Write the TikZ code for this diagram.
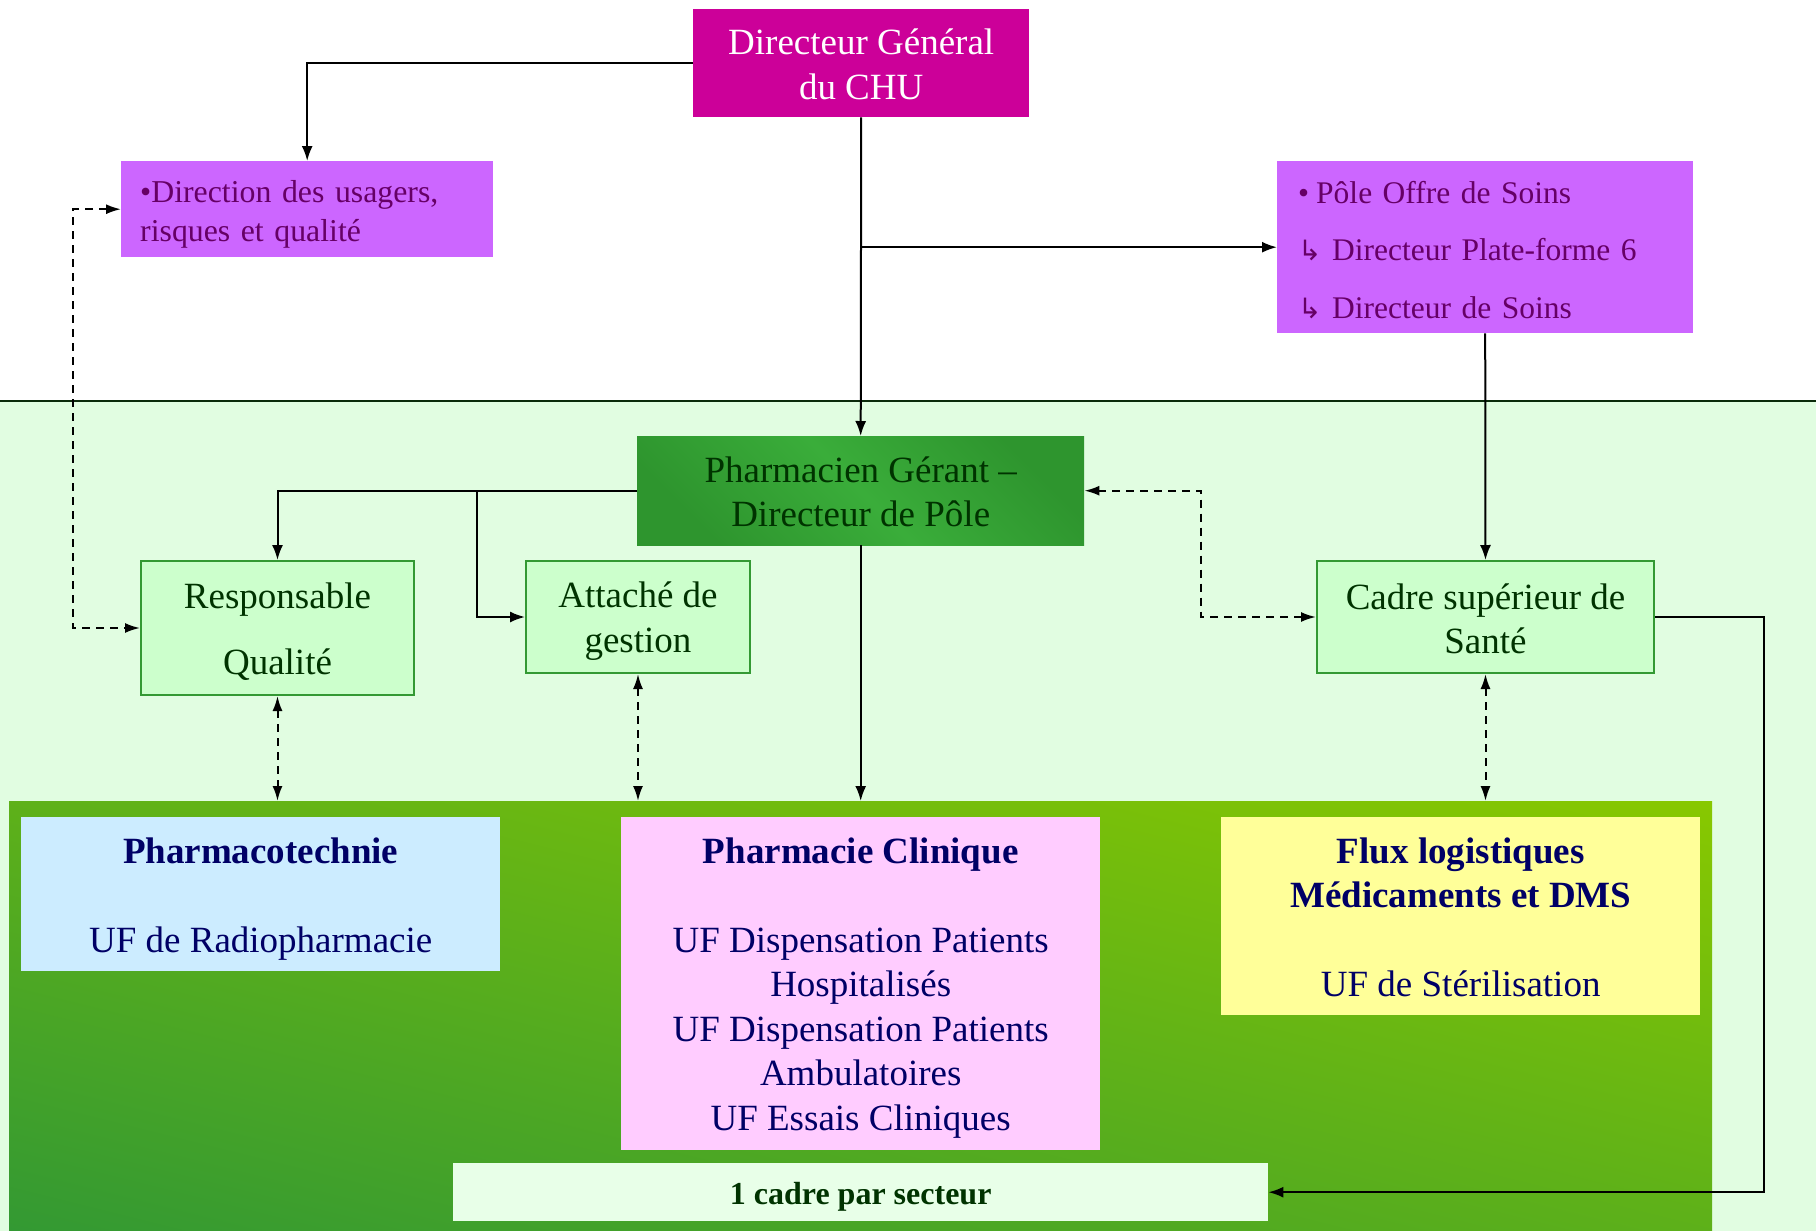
\documentclass[tikz,border=0pt]{standalone}
\usepackage{fontspec}
\setmainfont{Liberation Serif}
\newfontfamily\symfont{DejaVu Sans}
\usetikzlibrary{arrows.meta}
\definecolor{cdg}{HTML}{CC0099}
\definecolor{cviol}{HTML}{CC66FF}
\definecolor{cviotxt}{HTML}{660066}
\definecolor{cbg}{HTML}{E1FDE1}
\definecolor{cline}{HTML}{0A2A0A}
\definecolor{cgtxt}{HTML}{003300}
\definecolor{cgbox}{HTML}{CCFFCC}
\definecolor{cgborder}{HTML}{339933}
\definecolor{cnavy}{HTML}{000066}
\definecolor{cblue}{HTML}{CCECFF}
\definecolor{cpink}{HTML}{FFCCFF}
\definecolor{cyel}{HTML}{FFFF99}
\definecolor{cpale}{HTML}{E8FFE8}
\definecolor{cgdark}{HTML}{339933}
\definecolor{cglight}{HTML}{88C800}
\definecolor{cpgmid}{HTML}{3AAD3A}
\definecolor{cpgdark}{HTML}{2E952E}
\tikzset{
  boxbase/.style={anchor=north west, inner sep=0pt, draw=none},
  txt/.style={inner sep=0pt, align=center, anchor=center},
  bigfont/.style={font=\fontsize{37}{44.5}\selectfont},
  greenbox/.style={boxbase, fill=cgbox, draw=cgborder, line width=2pt},
  arr/.style={draw=black, line width=2pt, -{Latex[length=15pt,width=11pt]}},
  darr/.style={draw=black, line width=2pt, dash pattern=on 8pt off 6pt, {Latex[length=15pt,width=10pt]}-{Latex[length=15pt,width=10pt]}},
}
\begin{document}
\begin{tikzpicture}[x=1pt,y=-1pt]
\useasboundingbox (0,0) rectangle (1816,1231);
\fill[cbg] (0,401) rectangle (1816,1231);
\draw[line width=2.5pt, cline] (0,401) -- (1816,401);

% top level
\node[boxbase, fill=cdg, minimum width=336pt, minimum height=108pt] (dg) at (693,9) {};
\node[txt, text=white, font=\fontsize{37}{45}\selectfont] (dgT) at ([yshift=-1pt]dg.center) {Directeur Général\\du CHU};
\node[boxbase, fill=cviol, minimum width=372pt, minimum height=96pt] (dir) at (121,161) {};
\node[txt, text=cviotxt, text width=334pt, align=left, font=\fontsize{31.8}{39.5}\selectfont]
      (dirT) at ([yshift=-5pt]dir.center) {•Direction des usagers,\\risques et qualité};
\node[boxbase, fill=cviol, minimum width=416pt, minimum height=172pt] (pole) at (1277,161) {};
\node[txt, text=cviotxt, text width=374pt, align=left, font=\fontsize{31.5}{57.5}\selectfont]
      (poleT) at ([yshift=-2.5pt]pole.center) {•\hspace{7pt}Pôle Offre de Soins\\{\symfont\fontsize{28}{57.5}\selectfont ↳} Directeur Plate-forme 6\\{\symfont\fontsize{28}{57.5}\selectfont ↳} Directeur de Soins};

% pole level
\node[boxbase, minimum width=447pt, minimum height=109pt,
      top color=cpgdark, bottom color=cpgdark, middle color=cpgmid, shading angle=-45]
      (pg) at (637,436) {};
\node[txt, bigfont, text=cgtxt] (pgT) at ([yshift=-1pt]pg.center) {Pharmacien Gérant –\\Directeur de Pôle};
\node[greenbox, minimum width=273pt, minimum height=134pt] (resp) at (140,560) {};
\node[txt, text=cgtxt, font=\fontsize{37}{66}\selectfont] (respT) at ([yshift=-4pt]resp.center) {Responsable\\Qualité};
\node[greenbox, minimum width=224pt, minimum height=112pt] (att) at (525,560) {};
\node[txt, bigfont, text=cgtxt] (attT) at ([yshift=-4pt]att.center) {Attaché de\\gestion};
\node[greenbox, minimum width=337pt, minimum height=112pt] (cadre) at (1316,560) {};
\node[txt, bigfont, text=cgtxt] (cadreT) at ([yshift=-2pt]cadre.center) {Cadre supérieur de\\Santé};

% bottom group: diagonal gradient (dark bottom-left, light top-right)
\begin{scope}
  \clip (9,801) rectangle (1712,1231);
  \begin{scope}[transform canvas={rotate around={-14:(860.5,1016)}}]
    \shade[bottom color=cgdark, top color=cglight] (-20,601) rectangle (1741,1431);
  \end{scope}
\end{scope}
\node[boxbase, minimum width=1703pt, minimum height=430pt] (grp) at (9,801) {};
\node[boxbase, fill=cblue, minimum width=479pt, minimum height=154pt] (pt) at (21,817) {};
\node[txt, bigfont, text=cnavy] (ptT) at ([yshift=-4.5pt]pt.center)
  {\textbf{Pharmacotechnie}\\~\\UF de Radiopharmacie};
\node[boxbase, fill=cpink, minimum width=479pt, minimum height=333pt] (pc) at (621,817) {};
\node[txt, bigfont, text=cnavy] (pcT) at ([yshift=-4pt]pc.center)
  {\textbf{Pharmacie Clinique}\\~\\UF Dispensation Patients\\Hospitalisés\\UF Dispensation Patients\\Ambulatoires\\UF Essais Cliniques};
\node[boxbase, fill=cyel, minimum width=479pt, minimum height=198pt] (flux) at (1221,817) {};
\node[txt, bigfont, text=cnavy] (fluxT) at ([yshift=-1pt]flux.center)
  {\textbf{Flux logistiques}\\\textbf{Médicaments et DMS}\\~\\UF de Stérilisation};
\node[boxbase, fill=cpale, minimum width=815pt, minimum height=58pt] (c1) at (453,1163) {};
\node[txt, text=cgtxt, font=\fontsize{32}{38}\selectfont\bfseries] (c1T) at ([yshift=-4.5pt]c1.center) {1 cadre par secteur};

% connectors
\draw[arr] (dg.west) -| (dir.north);
\draw[arr] (dg.south) -- (pg.north);
\draw[arr] (dg.south |- pole.west) -- (pole.west);
\draw[arr] (pole.south) -- (cadre.north);
\draw[darr] (dir.west) -- ++(-48,0) |- (resp.west);
\draw[arr] (pg.west) -| (resp.north);
\draw[arr] (pg.west) ++(-160,0) |- (att.west);
\draw[arr] (pg.south) -- (pg.south |- grp.north);
\draw[darr] (pg.east) -- ++(117,0) |- (cadre.west);
\draw[darr] (resp.south) -- (resp.south |- grp.north);
\draw[darr] (att.south) -- (att.south |- grp.north);
\draw[darr] (cadre.south) -- (cadre.south |- grp.north);
\draw[arr] (cadre.east) -- ++(109,0) |- (c1.east);
\end{tikzpicture}
\end{document}
